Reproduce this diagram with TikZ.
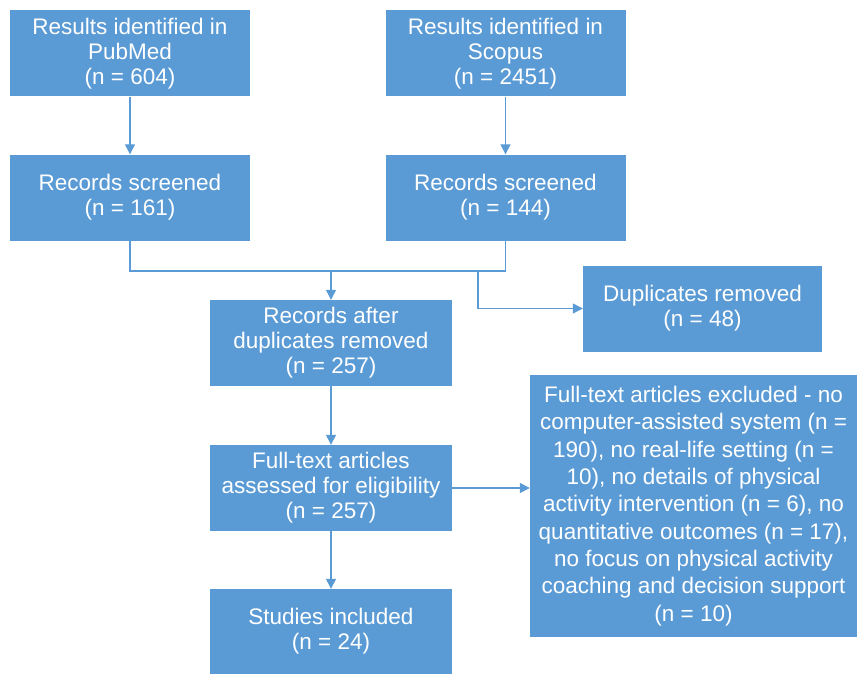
\documentclass[tikz,border=0pt]{standalone}
\usepackage{fontspec}
\setmainfont{Liberation Sans}
\usetikzlibrary{arrows.meta}
\definecolor{boxblue}{RGB}{91,155,213}

\begin{document}
\begin{tikzpicture}[x=1pt, y=-1pt,
    box/.style={fill=boxblue, text=white, align=center, inner sep=0pt,
        minimum width=240pt, minimum height=86pt,
        font=\fontsize{22.5}{25}\selectfont},
    line/.style={draw=boxblue, line width=1.2pt},
    arrow/.style={line, -{Triangle[length=10pt, width=10pt]}}
 ]
\useasboundingbox (0,0) rectangle (864,674);

\node[box] (pubmed) at (130,53.5) {Results identified in\\PubMed\\(n = 604)};
\node[box] (scopus) at (505.5,53.5) {Results identified in\\Scopus\\(n = 2451)};
\node[box] (screenA) at (130,197.5) {Records screened\\(n = 161)};
\node[box] (screenB) at (505.5,197.5) {Records screened\\(n = 144)};
\node[box, minimum width=242pt] (dedup) at (331,343) {Records after\\duplicates removed\\(n = 257)};
\node[box, minimum width=239pt] (dupl) at (702.5,308.5) {Duplicates removed\\(n = 48)};
\node[box, minimum width=242pt] (assess) at (331,488) {Full-text articles\\assessed for eligibility\\(n = 257)};
\node[box, minimum width=327pt, minimum height=262pt,
      font=\fontsize{22.5}{27.3}\selectfont] (excl) at (693.5,506)
    {Full-text articles excluded - no\\computer-assisted system (n =\\190), no real-life setting (n =\\10), no details of physical\\activity intervention (n = 6), no\\quantitative outcomes (n = 17),\\no focus on physical activity\\coaching and decision support\\(n = 10)};
\node[box, minimum width=242pt, minimum height=85pt] (incl) at (331,631.5) {Studies included\\(n = 24)};

\coordinate (merge) at (331,271);
\coordinate (fork) at (478,271);

\draw[arrow] (pubmed) -- (screenA);
\draw[arrow] (scopus) -- (screenB);
\draw[line] (screenA.south) |- (merge) -| (screenB.south);
\draw[arrow] (merge) -- (dedup);
\draw[arrow] (fork) |- (dupl.west);
\draw[arrow] (dedup) -- (assess);
\draw[arrow] (assess.east) -- (assess.east -| excl.west);
\draw[arrow] (assess) -- (incl);
\end{tikzpicture}
\end{document}
